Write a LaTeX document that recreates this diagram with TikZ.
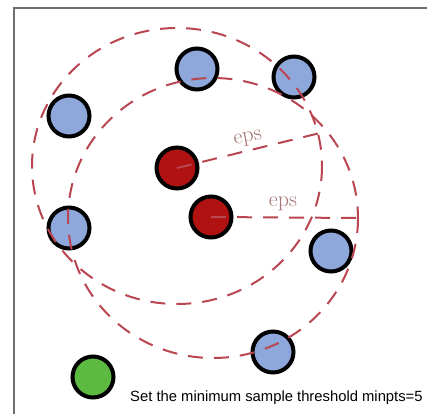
\documentclass[tikz,border=0pt]{standalone}
\usepackage{fontspec}
\newfontfamily\arialfont{Liberation Sans}
\begin{document}
\begin{tikzpicture}[x=1pt,y=-1pt,
  pt/.style={circle,draw=black,line width=4pt,minimum size=41pt,inner sep=0pt},
  bluept/.style={pt,fill={rgb,255:red,143;green,168;blue,220}},
  redpt/.style={pt,fill={rgb,255:red,176;green,18;blue,18}},
  greenpt/.style={pt,fill={rgb,255:red,92;green,186;blue,64}},
  epsline/.style={draw={rgb,255:red,185;green,70;blue,80},line width=2pt,dash pattern=on 15pt off 11pt},
  epslabel/.style={text={rgb,255:red,165;green,115;blue,115},font=\fontsize{22}{22}\selectfont,inner sep=0pt},
  frame/.style={draw={rgb,255:red,110;green,110;blue,110},line width=1.3pt}]
\useasboundingbox (0,0) rectangle (427,414);
\draw[frame] (14,414) -- (14,8) -- (430,8);
% points
\node[bluept] (b1) at (197,69) {};
\node[bluept] (b2) at (294,77) {};
\node[bluept] (b3) at (69,116) {};
\node[bluept] (b4) at (69,228) {};
\node[bluept] (b5) at (331,251) {};
\node[bluept] (b6) at (273,352) {};
\node[redpt] (r1) at (177,168) {};
\node[redpt] (r2) at (211,217) {};
\node[greenpt] (g) at (93,377) {};
% eps neighbourhoods
\coordinate (ca) at (177,166);
\coordinate (cb) at (213,218);
\draw[epsline] (ca) ellipse [x radius=145, y radius=138];
\draw[epsline] (cb) ellipse [x radius=145, y radius=140];
\coordinate (ea) at (320,133);
\coordinate (eb) at (358,218);
\draw[epsline] (r1.center) -- (ea);
\draw[epsline] (r2.center) -- (eb);
\node[epslabel,rotate=10] (l1) at (248,139) {eps};
\node[epslabel] (l2) at (283,204) {eps};
\node[anchor=base west,font=\arialfont\fontsize{14.8}{16}\selectfont,inner sep=0pt] (t) at (130,401) {Set the minimum sample threshold minpts=5};
\end{tikzpicture}
\end{document}
